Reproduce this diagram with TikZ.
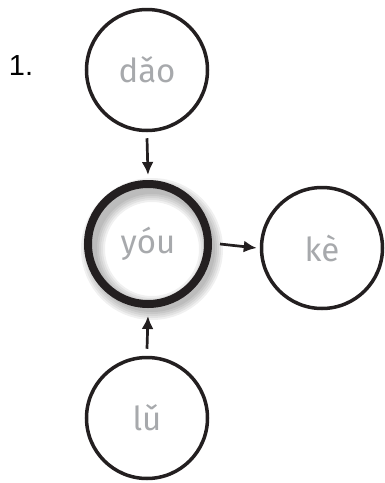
\documentclass[tikz,border=0pt]{standalone}
\usepackage{fontspec}
\setmainfont{Fira Sans}
\newfontfamily\numfont{Liberation Sans}
\usetikzlibrary{arrows.meta}
\definecolor{txtgray}{HTML}{A7A9AC}
\definecolor{ink}{HTML}{231F20}
\begin{document}
\begin{tikzpicture}[x=1pt,y=-1pt,
  syl/.style={circle,draw=ink,line width=3.5pt,minimum size=121pt,inner sep=0pt,
    text=txtgray,font=\fontsize{33}{34}\selectfont},
  link/.style={draw=ink,line width=2.7pt,-{Latex[length=13pt,width=12pt]}}]
\useasboundingbox (0,0) rectangle (384,483);
% soft shadow of the central circle
\foreach \w in {24,20,16,12,8}{
  \draw[black,opacity=0.06,line width=\w pt] (152,249) circle[radius=59];
}
\node[syl,line width=8pt,minimum size=120pt] (you) at (148,244) {yóu};
\node[syl] (dao) at (147,70) {dǎo};
\node[syl] (ke) at (322,248) {kè};
\node[syl] (lu) at (147,418) {lǔ};
\node[font=\numfont\fontsize{29}{30}\selectfont] (num) at (21,66) {1.};
\draw[link] ([yshift=-6pt]dao.south) -- ([yshift=5pt]you.north);
\draw[link] ([xshift=8pt]you.east) -- ([xshift=-3pt]ke.west);
\draw[link] ([yshift=7pt]lu.north) -- ([yshift=-8pt]you.south);
\end{tikzpicture}
\end{document}
